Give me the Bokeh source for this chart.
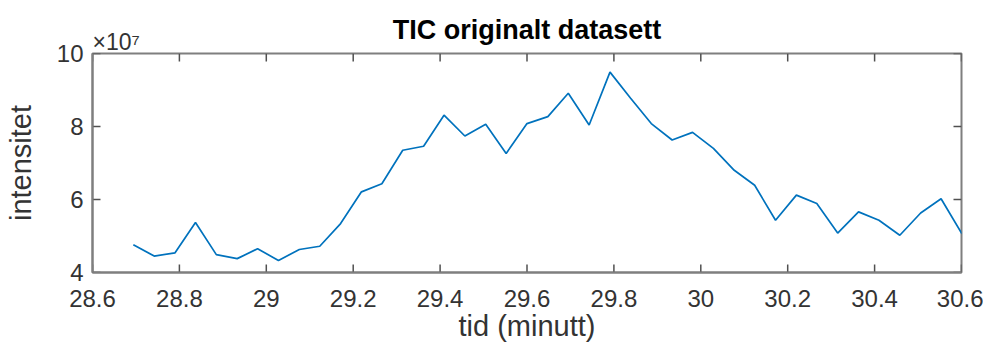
from bokeh.plotting import figure
from bokeh.models import LinearAxis, FixedTicker, Range1d, Title
from bokeh.embed import file_html
from bokeh.resources import INLINE

# --- data ---
tid = [28.694, 28.742, 28.790, 28.837, 28.885, 28.933, 28.980, 29.028, 29.076, 29.123,
       29.171, 29.219, 29.266, 29.314, 29.362, 29.409, 29.457, 29.505, 29.552, 29.600,
       29.648, 29.695, 29.743, 29.791, 29.838, 29.886, 29.934, 29.981, 30.029, 30.077,
       30.124, 30.172, 30.220, 30.267, 30.315, 30.363, 30.410, 30.458, 30.506, 30.553,
       30.601]
intensitet = [4.76e7, 4.45e7, 4.54e7, 5.37e7, 4.49e7, 4.38e7, 4.65e7, 4.33e7, 4.63e7, 4.72e7,
              5.34e7, 6.21e7, 6.43e7, 7.35e7, 7.46e7, 8.31e7, 7.74e7, 8.06e7, 7.26e7, 8.08e7,
              8.27e7, 8.91e7, 8.04e7, 9.49e7, 8.78e7, 8.08e7, 7.63e7, 7.84e7, 7.40e7, 6.80e7,
              6.39e7, 5.43e7, 6.12e7, 5.89e7, 5.08e7, 5.66e7, 5.43e7, 5.02e7, 5.63e7, 6.02e7,
              5.06e7]
x_ticks = [28.6, 28.8, 29.0, 29.2, 29.4, 29.6, 29.8, 30.0, 30.2, 30.4, 30.6]
x_tick_labels = ["28.6", "28.8", "29", "29.2", "29.4", "29.6", "29.8", "30", "30.2", "30.4", "30.6"]
y_ticks = [40000000, 60000000, 80000000, 100000000]
y_tick_labels = ["4", "6", "8", "10"]
y_exponent = "×10⁷"
title_text = "TIC originalt datasett"
x_label = "tid (minutt)"
y_label = "intensitet"

FONT = "Liberation Sans"
AX_COL = "#7f7f7f"
TICK_COL = "#505050"
TXT_COL = "#333333"

FRAME_W, FRAME_H = 869, 219
TICK_PX = 8

X0, X1 = x_ticks[0], x_ticks[-1]
Y0, Y1 = y_ticks[0], y_ticks[-1]

p = figure(width=983, height=348, output_backend="svg", toolbar_location=None, title=None,
           x_range=Range1d(X0, X1), y_range=Range1d(Y0, Y1),
           min_border_left=92, min_border_right=22, min_border_top=53, min_border_bottom=76,
           x_axis_location=None, y_axis_location=None)
p.background_fill_color = "white"
p.border_fill_color = "white"
p.xgrid.visible = False
p.ygrid.visible = False
p.outline_line_color = AX_COL
p.outline_line_width = 2

p.line(tid, intensitet, line_color="#0072BD", line_width=1.7)

# inward ticks on all four edges of the box (tick length converted from pixels)
dy = TICK_PX * (Y1 - Y0) / FRAME_H
dx = TICK_PX * (X1 - X0) / FRAME_W
nx, ny = len(x_ticks), len(y_ticks)
p.segment(x0=x_ticks * 2, y0=[Y0] * nx + [Y1] * nx,
          x1=x_ticks * 2, y1=[Y0 + dy] * nx + [Y1 - dy] * nx,
          line_color=TICK_COL, line_width=1.5)
p.segment(x0=[X0] * ny + [X1] * ny, y0=y_ticks * 2,
          x1=[X0 + dx] * ny + [X1 - dx] * ny, y1=y_ticks * 2,
          line_color=TICK_COL, line_width=1.5)


def style_axis(ax, ticks, labels):
    ax.ticker = FixedTicker(ticks=ticks)
    ax.axis_line_color = AX_COL
    ax.axis_line_width = 2
    ax.major_tick_line_color = None
    ax.major_tick_in = 0
    ax.major_tick_out = 0
    ax.minor_tick_line_color = None
    ax.major_label_text_font = FONT
    ax.major_label_text_color = TXT_COL
    ax.major_label_overrides = {t: l for t, l in zip(ticks, labels)}
    ax.major_label_text_font_size = "24px"
    ax.axis_label_text_font = FONT
    ax.axis_label_text_font_style = "normal"
    ax.axis_label_text_color = TXT_COL
    ax.axis_label_text_font_size = "29px"


xb = LinearAxis()
style_axis(xb, x_ticks, x_tick_labels)
xb.major_label_standoff = 17
xb.axis_label = x_label
xb.axis_label_standoff = 0
p.add_layout(xb, "below")

yl = LinearAxis()
style_axis(yl, y_ticks, y_tick_labels)
yl.major_label_standoff = 9
yl.axis_label = y_label
yl.axis_label_standoff = 17
p.add_layout(yl, "left")

# exponent note (closest to the frame), then the main title above it
p.add_layout(Title(text=y_exponent, align="left", vertical_align="top", standoff=-6, offset=0,
                   text_font=FONT, text_font_style="normal", text_font_size="23px",
                   text_color=TXT_COL), "above")
p.add_layout(Title(text=title_text, align="center", standoff=-26,
                   text_font=FONT, text_font_style="bold", text_font_size="27px",
                   text_color="black"), "above")

open("out.html", "w").write(file_html(p, INLINE))
